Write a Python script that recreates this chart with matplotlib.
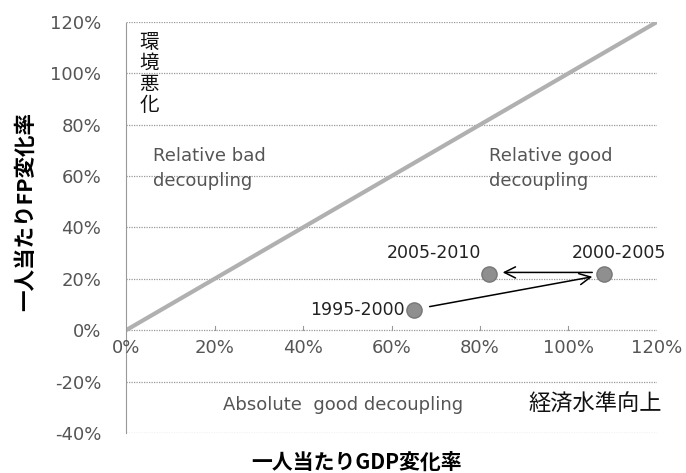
import matplotlib
matplotlib.use('Agg')
import matplotlib.pyplot as plt
from matplotlib.ticker import FuncFormatter

plt.rcParams['font.family'] = ['Noto Sans CJK JP', 'DejaVu Sans']
LAT = ['DejaVu Sans']

# data (per-capita GDP change %, per-capita FP change %)
periods = ['1995-2000', '2000-2005', '2005-2010']
gdp_change = [65, 108, 82]
fp_change = [8, 22, 22]
ref_line = [0, 120]
y_ticks = [-40, -20, 0, 20, 40, 60, 80, 100, 120]
x_ticks = [0, 20, 40, 60, 80, 100, 120]

fig = plt.figure(figsize=(6.86, 4.73), dpi=100)
ax = fig.add_axes([0.1837, 0.0846, 0.774, 0.869])

ax.set_xlim(0, 120)
ax.set_ylim(-40, 120)

for y in y_ticks:
    ax.axhline(y, color='#999999', lw=0.9, ls=(0, (1, 1)), zorder=1)

ax.plot(ref_line, ref_line, color='#b0b0b0', lw=3, zorder=2)

for sp in ['top', 'right', 'bottom']:
    ax.spines[sp].set_visible(False)
ax.spines['left'].set_color('#999999')
ax.spines['left'].set_linestyle((0, (1, 1)))

pct = FuncFormatter(lambda v, p: f'{v:.0f}%')
ax.set_yticks(y_ticks)
ax.yaxis.set_major_formatter(pct)
ax.tick_params(axis='y', length=0, pad=18, labelsize=13, labelcolor='#555555')
for lb in ax.get_yticklabels():
    lb.set_family(LAT)

# x tick labels sit below the 0% line
ax.set_xticks([])
for x in x_ticks:
    ax.text(x, -7, f'{x}%', ha='center', va='center', fontsize=13, color='#555555', family=LAT)
    if 0 < x < 120:
        ax.plot([x, x], [0, 1.5], color='#999999', lw=0.8, zorder=1)

ax.scatter(gdp_change, fp_change, s=120, color='#8f8f8f', edgecolors='#777777', zorder=4)

# arrows following time order
ax.annotate('', xy=(gdp_change[1] - 2, fp_change[1] - 1), xytext=(gdp_change[0] + 3, fp_change[0] + 1),
            arrowprops=dict(arrowstyle='->', color='black', lw=1.1, mutation_scale=20), zorder=3)
ax.annotate('', xy=(gdp_change[2] + 2.5, fp_change[2] + 0.5), xytext=(gdp_change[1] - 2, fp_change[1] + 0.5),
            arrowprops=dict(arrowstyle='->', color='black', lw=1.1, mutation_scale=20), zorder=3)

ax.text(gdp_change[0] - 2, fp_change[0], periods[0], ha='right', va='center', fontsize=12.5,
        color='#222222', family=LAT)
ax.text(gdp_change[1] + 3.5, fp_change[1] + 4.5, periods[1], ha='center', va='bottom', fontsize=12.5,
        color='#222222', family=LAT)
ax.text(gdp_change[2] - 1.8, fp_change[2] + 4.5, periods[2], ha='right', va='bottom', fontsize=12.5,
        color='#222222', family=LAT)

ax.text(3, 116, '環\n境\n悪\n化', ha='left', va='top', fontsize=14, linespacing=1.0, color='#111111')
ax.text(6, 63, 'Relative bad\ndecoupling', ha='left', va='center', fontsize=13, color='#555555',
        linespacing=1.45, family=LAT)
ax.text(82, 63, 'Relative good\ndecoupling', ha='left', va='center', fontsize=13, color='#555555',
        linespacing=1.45, family=LAT)
ax.text(22, -29, 'Absolute  good decoupling', ha='left', va='center', fontsize=13, color='#555555',
        family=LAT)
ax.text(91, -29, '経済水準向上', ha='left', va='center', fontsize=16, color='#111111')

ax.set_ylabel('一人当たりFP変化率', fontsize=15.5, fontweight='bold')
ax.yaxis.set_label_coords(-0.17, 0.54)
fig.text(0.52, 1 - 462 / 473, '一人当たりGDP変化率', ha='center', va='center', fontsize=15, fontweight='bold')

fig.savefig('out.png', dpi=100)
